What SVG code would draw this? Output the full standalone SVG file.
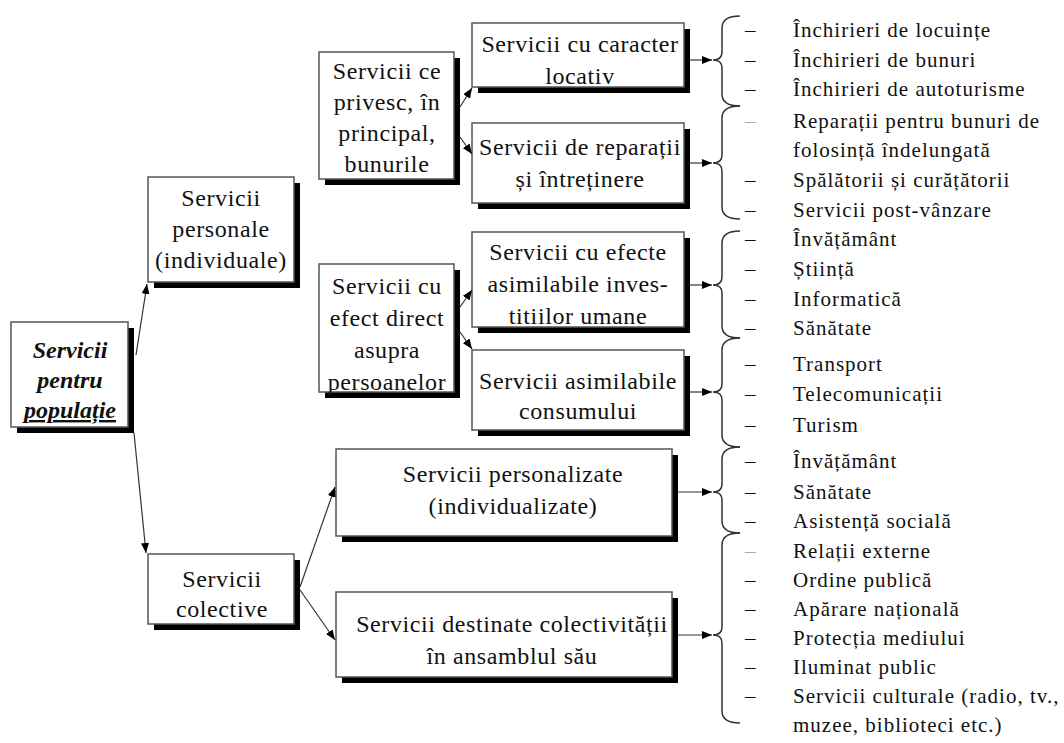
<svg xmlns="http://www.w3.org/2000/svg" width="1064" height="743" viewBox="0 0 1064 743">
<defs>
<marker id="ah" markerUnits="userSpaceOnUse" markerWidth="10" markerHeight="8" refX="10" refY="4" orient="auto">
<path d="M0,0 L10,4 L0,8 z" fill="#000"/>
</marker>
<style>
.sh{fill:#000}
.bx{fill:#fff;stroke:#555;stroke-width:1.5}
.t{font-family:"Liberation Serif","Times New Roman",serif;font-size:24px;fill:#111;text-anchor:middle;letter-spacing:0.6px}
.r{font-family:"Liberation Serif","Times New Roman",serif;font-size:24px;fill:#111;text-anchor:middle;font-weight:bold;font-style:italic}
.l{font-family:"Liberation Serif","Times New Roman",serif;font-size:21px;fill:#111;letter-spacing:1px}
.d{font-family:"Liberation Serif","Times New Roman",serif;font-size:21px;fill:#111}
.dl{fill:#aaa}
.c{fill:none;stroke:#333;stroke-width:1.2}
.br{fill:none;stroke:#333;stroke-width:1.5}
</style>
</defs>
<rect width="1064" height="743" fill="#fff"/>

<g id="root">
<rect class="sh" x="17" y="328" width="117" height="105"/>
<rect class="bx" x="11" y="322" width="117" height="105"/>
<text class="r" x="70" y="358">Servicii</text>
<text class="r" x="70" y="388">pentru</text>
<text class="r" x="70" y="418" text-decoration="underline">populație</text>
</g>

<g id="personale">
<rect class="sh" x="154" y="183" width="146" height="105"/>
<rect class="bx" x="148" y="177" width="146" height="105"/>
<text class="t" x="221" y="206">Servicii</text>
<text class="t" x="221" y="237">personale</text>
<text class="t" x="221" y="268">(individuale)</text>
</g>

<g id="colective">
<rect class="sh" x="154" y="560" width="146" height="70"/>
<rect class="bx" x="148" y="554" width="146" height="70"/>
<text class="t" x="222" y="587">Servicii</text>
<text class="t" x="222" y="617">colective</text>
</g>

<g id="ceprivesc">
<rect class="sh" x="325" y="58" width="135" height="127"/>
<rect class="bx" x="319" y="52" width="135" height="127"/>
<text class="t" x="387" y="79">Servicii ce</text>
<text class="t" x="387" y="110">privesc, în</text>
<text class="t" x="387" y="141">principal,</text>
<text class="t" x="387" y="172">bunurile</text>
</g>

<g id="efectdirect">
<rect class="sh" x="325" y="270" width="135" height="128"/>
<rect class="bx" x="319" y="264" width="135" height="128"/>
<text class="t" x="387" y="294">Servicii cu</text>
<text class="t" x="387" y="326">efect direct</text>
<text class="t" x="387" y="358">asupra</text>
<text class="t" x="387" y="390">persoanelor</text>
</g>

<g id="locativ">
<rect class="sh" x="478" y="29" width="212" height="64"/>
<rect class="bx" x="472" y="23" width="212" height="64"/>
<text class="t" x="580" y="52">Servicii cu caracter</text>
<text class="t" x="580" y="84">locativ</text>
</g>

<g id="reparatii">
<rect class="sh" x="478" y="129" width="212" height="80"/>
<rect class="bx" x="472" y="123" width="212" height="80"/>
<text class="t" x="580" y="155">Servicii de reparații</text>
<text class="t" x="580" y="187">și întreținere</text>
</g>

<g id="efecte">
<rect class="sh" x="478" y="238" width="212" height="95"/>
<rect class="bx" x="472" y="232" width="212" height="95"/>
<text class="t" x="578" y="260">Servicii cu efecte</text>
<text class="t" x="578" y="292">asimilabile inves-</text>
<text class="t" x="578" y="324">titiilor umane</text>
</g>

<g id="consumului">
<rect class="sh" x="478" y="356" width="212" height="80"/>
<rect class="bx" x="472" y="350" width="212" height="80"/>
<text class="t" x="578" y="389">Servicii asimilabile</text>
<text class="t" x="578" y="419">consumului</text>
</g>

<g id="personalizate">
<rect class="sh" x="342" y="455" width="336" height="87"/>
<rect class="bx" x="336" y="449" width="336" height="87"/>
<text class="t" x="513" y="482">Servicii personalizate</text>
<text class="t" x="513" y="514">(individualizate)</text>
</g>

<g id="destinate">
<rect class="sh" x="342" y="598" width="336" height="85"/>
<rect class="bx" x="336" y="592" width="336" height="85"/>
<text class="t" x="512" y="632">Servicii destinate colectivității</text>
<text class="t" x="512" y="664">în ansamblul său</text>
</g>

<g id="connectors">
<line class="c" x1="136" y1="355" x2="147" y2="284" marker-end="url(#ah)"/>
<line class="c" x1="134" y1="433" x2="146" y2="553" marker-end="url(#ah)"/>
<line class="c" x1="460" y1="107" x2="472" y2="88" marker-end="url(#ah)"/>
<line class="c" x1="460" y1="137" x2="472" y2="154" marker-end="url(#ah)"/>
<line class="c" x1="460" y1="307" x2="472" y2="290" marker-end="url(#ah)"/>
<line class="c" x1="460" y1="332" x2="472" y2="349" marker-end="url(#ah)"/>
<line class="c" x1="300" y1="587" x2="335" y2="487" marker-end="url(#ah)"/>
<line class="c" x1="300" y1="590" x2="335" y2="640" marker-end="url(#ah)"/>
<line class="c" x1="690" y1="60" x2="712" y2="60" marker-end="url(#ah)"/>
<line class="c" x1="690" y1="163" x2="712" y2="163" marker-end="url(#ah)"/>
<line class="c" x1="690" y1="285" x2="712" y2="285" marker-end="url(#ah)"/>
<line class="c" x1="690" y1="392" x2="712" y2="392" marker-end="url(#ah)"/>
<line class="c" x1="678" y1="492" x2="712" y2="492" marker-end="url(#ah)"/>
<line class="c" x1="678" y1="635" x2="712" y2="635" marker-end="url(#ah)"/>
</g>

<g id="braces">
<path class="br" d="M740,16 Q722,16 722,28 L722,52 Q722,60 713,60 Q722,60 722,68 L722,94 Q722,106 740,106"/>
<path class="br" d="M740,106 Q722,106 722,118 L722,155 Q722,163 713,163 Q722,163 722,171 L722,207 Q722,219 740,219"/>
<path class="br" d="M740,231 Q722,231 722,243 L722,277 Q722,285 713,285 Q722,285 722,293 L722,326 Q722,338 740,338"/>
<path class="br" d="M740,338 Q722,338 722,350 L722,384 Q722,392 713,392 Q722,392 722,400 L722,435 Q722,447 740,447"/>
<path class="br" d="M740,447 Q722,447 722,459 L722,484 Q722,492 713,492 Q722,492 722,500 L722,521 Q722,533 740,533"/>
<path class="br" d="M740,533 Q722,533 722,545 L722,627 Q722,635 713,635 Q722,635 722,643 L722,711 Q722,723 740,723"/>
</g>

<g id="list">
<text class="d" x="745" y="37">–</text><text class="l" x="793" y="37">Închirieri de locuințe</text>
<text class="d" x="745" y="67">–</text><text class="l" x="793" y="67">Închirieri de bunuri</text>
<text class="d" x="745" y="96">–</text><text class="l" x="793" y="96">Închirieri de autoturisme</text>
<text class="d dl" x="745" y="128">–</text><text class="l" x="793" y="128">Reparații pentru bunuri de</text>
<text class="l" x="793" y="157">folosință îndelungată</text>
<text class="d" x="745" y="187">–</text><text class="l" x="793" y="187">Spălătorii și curățătorii</text>
<text class="d" x="745" y="217">–</text><text class="l" x="793" y="217">Servicii post-vânzare</text>
<text class="d" x="745" y="246">–</text><text class="l" x="793" y="246">Învățământ</text>
<text class="d" x="745" y="276">–</text><text class="l" x="793" y="276">Știință</text>
<text class="d" x="745" y="306">–</text><text class="l" x="793" y="306">Informatică</text>
<text class="d" x="745" y="335">–</text><text class="l" x="793" y="335">Sănătate</text>
<text class="d" x="745" y="371">–</text><text class="l" x="793" y="371">Transport</text>
<text class="d" x="745" y="401">–</text><text class="l" x="793" y="401">Telecomunicații</text>
<text class="d" x="745" y="432">–</text><text class="l" x="793" y="432">Turism</text>
<text class="d" x="745" y="468">–</text><text class="l" x="793" y="468">Învățământ</text>
<text class="d" x="745" y="499">–</text><text class="l" x="793" y="499">Sănătate</text>
<text class="d" x="745" y="528">–</text><text class="l" x="793" y="528">Asistență socială</text>
<text class="d dl" x="745" y="558">–</text><text class="l" x="793" y="558">Relații externe</text>
<text class="d" x="745" y="587">–</text><text class="l" x="793" y="587">Ordine publică</text>
<text class="d" x="745" y="616">–</text><text class="l" x="793" y="616">Apărare națională</text>
<text class="d" x="745" y="645">–</text><text class="l" x="793" y="645">Protecția mediului</text>
<text class="d" x="745" y="674">–</text><text class="l" x="793" y="674">Iluminat public</text>
<text class="d" x="745" y="703">–</text><text class="l" x="793" y="703">Servicii culturale (radio, tv.,</text>
<text class="l" x="793" y="732">muzee, biblioteci etc.)</text>
</g>
</svg>
